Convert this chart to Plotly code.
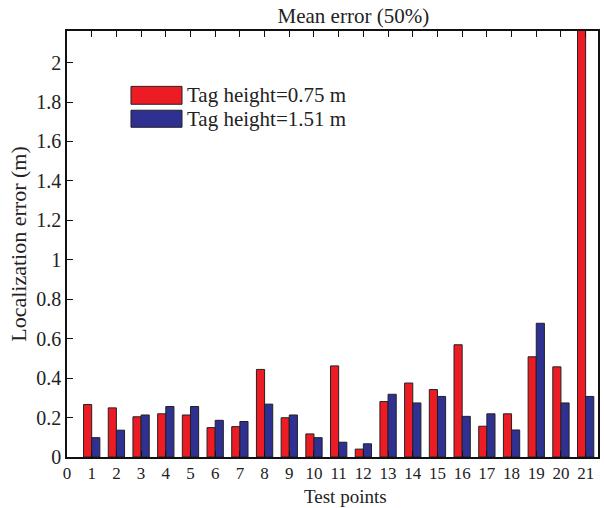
import plotly.graph_objects as go

test_points = list(range(1, 22))
err_075 = [0.266, 0.249, 0.204, 0.219, 0.213, 0.149, 0.154, 0.444, 0.199, 0.117,
           0.462, 0.040, 0.281, 0.375, 0.342, 0.569, 0.156, 0.219, 0.508, 0.457, 2.50]
err_151 = [0.098, 0.136, 0.213, 0.256, 0.256, 0.186, 0.180, 0.268, 0.213, 0.098,
           0.075, 0.067, 0.318, 0.274, 0.307, 0.206, 0.219, 0.137, 0.678, 0.274, 0.307]
series_names = ["Tag height=0.75 m", "Tag height=1.51 m"]
series_colors = ["#ED1C24", "#2E3192"]
x_ticks = list(range(0, 22))
y_ticks = [0, 0.2, 0.4, 0.6, 0.8, 1, 1.2, 1.4, 1.6, 1.8, 2]
y_tick_text = ["0", "0.2", "0.4", "0.6", "0.8", "1", "1.2", "1.4", "1.6", "1.8", "2"]

FONT = "Liberation Serif"
TXT = "#222222"
H, T, B = 508, 31, 51
plot_h = H - T - B

fig = go.Figure()
for vals, name, col in zip([err_075, err_151], series_names, series_colors):
    fig.add_trace(go.Bar(x=test_points, y=vals, name=name, showlegend=False,
                         marker=dict(color=col, line=dict(color="#222222", width=1))))

# Legend drawn MATLAB-style with wide swatches
legend_rows = [(0.870, 0.828, 0.849), (0.814, 0.774, 0.794)]
shapes = []
annotations = []
for (top, bot, mid), name, col in zip(legend_rows, series_names, series_colors):
    shapes.append(dict(type="rect", xref="paper", yref="paper", x0=0.1205, x1=0.2166,
                       y0=bot, y1=top, fillcolor=col, line=dict(color="#222222", width=1)))
    annotations.append(dict(xref="paper", yref="paper", x=0.222, y=mid, text=name,
                            showarrow=False, xanchor="left", yanchor="middle",
                            font=dict(family=FONT, size=21, color=TXT)))

# x-axis title placed below the tick labels
annotations.append(dict(xref="paper", yref="paper", x=0.525, y=-B / plot_h,
                        text="Test points", showarrow=False, xanchor="center",
                        yanchor="bottom", borderpad=0,
                        font=dict(family=FONT, size=19, color=TXT)))

fig.update_layout(
    width=604, height=H,
    margin=dict(l=67, r=6, t=T, b=B),
    paper_bgcolor="white", plot_bgcolor="white",
    barmode="group", bargap=0.34, bargroupgap=0,
    font=dict(family=FONT, size=19, color=TXT),
    title=dict(text="Mean error (50%)", x=0.585, xanchor="center", y=0.984, yanchor="top",
               font=dict(family=FONT, size=21, color=TXT)),
    shapes=shapes,
    annotations=annotations,
    xaxis=dict(range=[0, 21.5], tickmode="array", tickvals=x_ticks,
               ticktext=[str(v) for v in x_ticks], automargin=False,
               showline=True, linecolor="#111111", linewidth=1.5, mirror="ticks",
               ticks="inside", ticklen=6, tickcolor="#111111", showgrid=False, zeroline=False,
               tickfont=dict(size=17)),
    yaxis=dict(range=[0, 2.16], tickmode="array", tickvals=y_ticks, ticktext=y_tick_text,
               automargin=False,
               showline=True, linecolor="#111111", linewidth=1.5, mirror=True,
               ticks="inside", ticklen=6, tickcolor="#111111", showgrid=False, zeroline=False,
               title=dict(text="Localization error (m)", standoff=4, font=dict(size=22)),
               tickfont=dict(size=20)),
)

fig.write_html("out.html")
